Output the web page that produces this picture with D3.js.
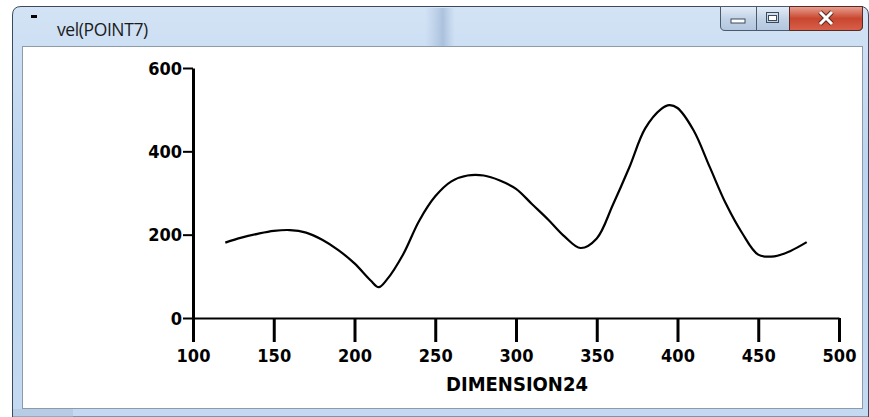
<!DOCTYPE html>
<html>
<head>
<meta charset="utf-8">
<script src="https://cdn.jsdelivr.net/npm/d3@7"></script>
<style>
  html, body { margin: 0; padding: 0; background: #fff; }
  svg { display: block; }
  .axis text { font-family: "DejaVu Sans Condensed", "DejaVu Sans", sans-serif; font-stretch: condensed; font-weight: bold; font-size: 18px; fill: #000; }
</style>
</head>
<body>
<svg id="chart" width="869" height="417"></svg>
<script>
// values
const dimension = [120, 130, 140, 150, 160, 170, 180, 190, 200, 210, 215, 220, 230, 240, 250, 260, 270, 280, 290, 300,
                   310, 320, 330, 340, 350, 360, 370, 380, 390, 395, 400, 410, 420, 430, 440, 450, 460, 470, 480];
const velocity = [181, 193, 202, 209, 211, 205, 188, 163, 131, 90, 74, 92, 152, 233, 292, 328, 342, 342, 330, 310,
                  273, 236, 196, 168, 191, 272, 360, 455, 502, 511, 504, 450, 362, 274, 204, 152, 148, 161, 182];
const xTicks = [100, 150, 200, 250, 300, 350, 400, 450, 500];
const yTicks = [0, 200, 400, 600];
const title = 'vel(POINT7)';
const xLabel = 'DIMENSION24';

const W = 869, H = 417;
const svg = d3.select('#chart');
const defs = svg.append('defs');

// --- window frame (Win7 style) ---
const glass = defs.append('linearGradient').attr('id', 'glass').attr('x1', 0).attr('x2', 0).attr('y1', 0).attr('y2', 1);
glass.append('stop').attr('offset', '0%').attr('stop-color', '#d3e3f5');
glass.append('stop').attr('offset', '40%').attr('stop-color', '#bcd4ef');
glass.append('stop').attr('offset', '100%').attr('stop-color', '#c4daf2');

const strip = defs.append('linearGradient').attr('id', 'strip');
strip.append('stop').attr('offset', '0%').attr('stop-color', '#8fa9c9').attr('stop-opacity', 0);
strip.append('stop').attr('offset', '60%').attr('stop-color', '#7e9bc0').attr('stop-opacity', 0.45);
strip.append('stop').attr('offset', '100%').attr('stop-color', '#8fa9c9').attr('stop-opacity', 0);

const red = defs.append('linearGradient').attr('id', 'red').attr('x1', 0).attr('x2', 0).attr('y1', 0).attr('y2', 1);
red.append('stop').attr('offset', '0%').attr('stop-color', '#e8a293');
red.append('stop').attr('offset', '50%').attr('stop-color', '#c9462f');
red.append('stop').attr('offset', '100%').attr('stop-color', '#d8604a');

const btn = defs.append('linearGradient').attr('id', 'btn').attr('x1', 0).attr('x2', 0).attr('y1', 0).attr('y2', 1);
btn.append('stop').attr('offset', '0%').attr('stop-color', '#e4edf7');
btn.append('stop').attr('offset', '50%').attr('stop-color', '#c3d3e6');
btn.append('stop').attr('offset', '100%').attr('stop-color', '#b2c6de');

svg.append('rect').attr('width', W).attr('height', H).attr('fill', '#fff');
svg.append('path')
  .attr('d', 'M12.5,417 L12.5,15 Q12.5,6.5 21,6.5 L860,6.5 Q868.5,6.5 868.5,15 L868.5,417 Z')
  .attr('fill', 'url(#glass)')
  .attr('stroke', '#3c4b5c')
  .attr('stroke-width', 1);
// blurred darker strip in the title glass
svg.append('rect').attr('x', 425).attr('y', 8).attr('width', 30).attr('height', 38)
  .attr('fill', 'url(#strip)');
svg.append('rect').attr('x', 13).attr('y', 409).attr('width', 60).attr('height', 8)
  .attr('fill', '#a9bfd8').attr('opacity', 0.5);

// client area
svg.append('rect').attr('x', 22.5).attr('y', 46.5).attr('width', 840).attr('height', 362)
  .attr('fill', '#fff').attr('stroke', '#8d9aa8').attr('stroke-width', 1);

// title icon + text
svg.append('rect').attr('x', 31).attr('y', 15).attr('width', 6).attr('height', 3).attr('fill', '#000');
svg.append('text').attr('x', 57).attr('y', 36)
  .attr('font-family', '"Open Sans", "Noto Sans", sans-serif')
  .attr('font-size', 17.5).attr('fill', '#1b1b1b')
  .attr('letter-spacing', -0.4)
  .text(title);

// caption buttons
const buttons = svg.append('g');
buttons.append('path')
  .attr('d', 'M720.5,6.5 L862.5,6.5 L862.5,26 Q862.5,30.5 858,30.5 L725,30.5 Q720.5,30.5 720.5,26 Z')
  .attr('fill', 'url(#btn)').attr('stroke', '#4a5a6e');
buttons.append('path')
  .attr('d', 'M789.5,6.5 L862.5,6.5 L862.5,26 Q862.5,30.5 858,30.5 L789.5,30.5 Z')
  .attr('fill', 'url(#red)').attr('stroke', '#5a2a22');
buttons.append('line').attr('x1', 756.5).attr('x2', 756.5).attr('y1', 7).attr('y2', 30).attr('stroke', '#4a5a6e');
buttons.append('rect').attr('x', 731).attr('y', 19).attr('width', 14).attr('height', 4)
  .attr('fill', '#fff').attr('stroke', '#3b4a5e');
buttons.append('rect').attr('x', 766.5).attr('y', 12.5).attr('width', 12).attr('height', 10)
  .attr('fill', 'none').attr('stroke', '#3b4a5e').attr('stroke-width', 1);
buttons.append('rect').attr('x', 768.5).attr('y', 15.5).attr('width', 8).attr('height', 5)
  .attr('fill', '#fff').attr('stroke', '#3b4a5e').attr('stroke-width', 1);
buttons.append('path').attr('d', 'M820,12 L832,24 M832,12 L820,24')
  .attr('stroke', '#5a2a22').attr('stroke-width', 5);
buttons.append('path').attr('d', 'M820,12 L832,24 M832,12 L820,24')
  .attr('stroke', '#fff').attr('stroke-width', 3);

// --- chart ---
const x = d3.scaleLinear().domain([100, 500]).range([193, 839]);
const y = d3.scaleLinear().domain([0, 600]).range([318, 68]);

const xAxis = d3.axisBottom(x).tickValues(xTicks).tickSize(24).tickSizeOuter(0).tickPadding(6);
const yAxis = d3.axisLeft(y).tickValues(yTicks).tickSize(10).tickSizeOuter(0).tickPadding(1);

const gx = svg.append('g').attr('class', 'axis').attr('transform', 'translate(0,318)').call(xAxis);
gx.select('.domain').attr('stroke', '#000').attr('stroke-width', 2);
gx.selectAll('.tick line').attr('stroke', '#000').attr('stroke-width', 3);
gx.selectAll('.tick text').attr('y', 31).attr('dy', '0.71em');

const gy = svg.append('g').attr('class', 'axis').attr('transform', 'translate(193,0)').call(yAxis);
gy.select('.domain').attr('stroke', '#000').attr('stroke-width', 3);
gy.selectAll('.tick line').attr('stroke', '#000').attr('stroke-width', 2);
gy.selectAll('.tick text').attr('dy', '0.35em');

svg.append('text')
  .attr('x', 517).attr('y', 391)
  .attr('text-anchor', 'middle')
  .style('font-family', '"DejaVu Sans Condensed", "DejaVu Sans", sans-serif')
  .style('font-stretch', 'condensed')
  .style('font-weight', 'bold')
  .style('font-size', '20px')
  .text(xLabel);

const line = d3.line()
  .x((d, i) => x(dimension[i]))
  .y(d => y(d))
  .curve(d3.curveCatmullRom.alpha(0.5));

svg.append('path')
  .datum(velocity)
  .attr('fill', 'none')
  .attr('stroke', '#000')
  .attr('stroke-width', 2.2)
  .attr('d', line);
</script>
</body>
</html>
